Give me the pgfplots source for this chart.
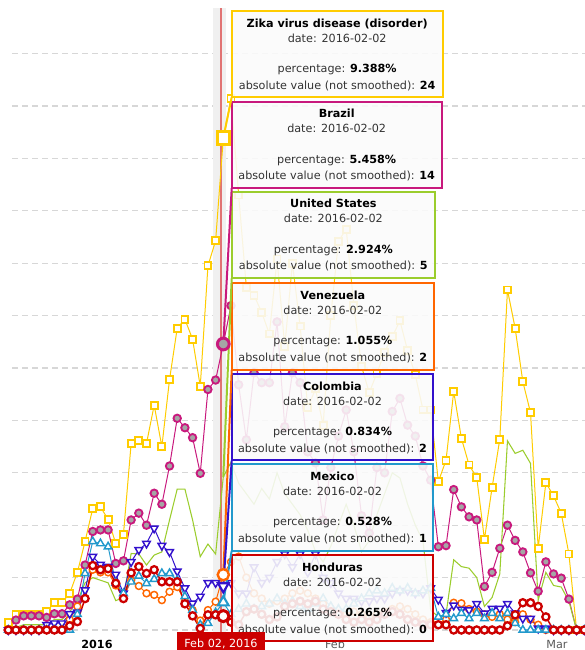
\documentclass[border=0pt]{standalone}
\usepackage{pgfplots}
\pgfplotsset{compat=1.18}
\usepackage{pgfplotstable}
\usepackage{fontspec}
\setmainfont{DejaVu Sans}
\definecolor{czika}{RGB}{255,204,0}
\definecolor{cbra}{RGB}{200,25,125}
\definecolor{cus}{RGB}{155,205,45}
\definecolor{cven}{RGB}{255,102,0}
\definecolor{ccol}{RGB}{51,17,204}
\definecolor{cmex}{RGB}{34,153,204}
\definecolor{chon}{RGB}{204,0,0}
\definecolor{cgrid}{RGB}{215,215,215}
\definecolor{ctxt}{RGB}{51,51,51}
\definecolor{cband}{RGB}{240,240,240}
\definecolor{cvline}{RGB}{225,115,115}
\definecolor{cballs}{RGB}{165,165,165}
\newcommand\tf{\fontsize{8.4pt}{10pt}\selectfont}

\pgfplotstableread{
d zika brazil us ven col mex hon
5 0.15 0 0 0 0 0 0
6 0.30 0.19 0.05 0 0 0 0
7 0.30 0.27 0.10 0 0 0 0
8 0.30 0.27 0.10 0 0 0 0
9 0.30 0.27 0.10 0 0 0 0
10 0.35 0.24 0.10 0 0.10 0 0
11 0.52 0.31 0.20 0 0.13 0 0
12 0.52 0.31 0.20 0 0.13 0 0
13 0.70 0.48 0.35 0.20 0.31 0 0.08
14 1.10 0.59 0.55 0.45 0.34 0.30 0.16
15 1.69 1.24 0.90 0.60 0.76 1.08 0.60
16 2.32 1.88 1.00 1.15 1.40 1.69 1.23
17 2.35 1.91 0.95 1.10 1.25 1.65 1.15
18 2.11 1.91 0.90 1.10 1.21 1.59 1.17
19 1.65 1.27 0.56 0.85 1.06 0.90 0.89
20 1.83 1.32 0.62 0.60 0.70 0.70 0.60
21 3.56 2.10 1.46 0.95 1.30 0.92 1.09
22 3.61 2.23 1.45 0.84 1.53 1.03 1.21
23 3.56 2.00 1.24 0.70 1.65 0.89 1.08
24 4.29 2.61 1.43 0.67 1.94 0.97 1.15
25 3.50 2.40 1.49 0.57 1.61 1.08 0.92
26 4.78 3.13 2.10 0.73 1.49 1.08 0.92
27 5.76 4.04 2.69 0.82 1.12 0.95 0.92
28 5.93 3.86 2.69 0.55 0.80 0.64 0.50
29 5.55 3.67 2.10 0.38 0.51 0.38 0.27
30 4.65 2.99 1.40 0.18 0.64 0.10 0.03
31 6.95 4.59 1.64 0.38 0.90 0.13 0.29
32 7.43 4.77 1.45 0.54 0.90 0.33 0.29
33 9.388 5.458 2.924 1.055 0.834 0.528 0.265
34 10.15 6.19 3.2 1.3 0.9 0.3 0.15
35 8.30 4.68 2.8 1.4 0.7 0.4 0.10
36 6.54 3.63 2.6 1.0 0.7 0.5 0.35
37 6.39 4.91 2.4 0.7 1.2 0.4 0.40
38 6.06 4.72 2.7 0.6 0.9 0.45 0.30
39 5.65 4.72 2.5 0.5 1.0 0.5 0.20
40 7.08 5.88 3.0 0.55 1.3 0.6 0.25
41 5.41 3.88 2.6 0.6 1.45 0.5 0.45
42 7.00 4.91 2.4 0.7 1.2 0.55 0.50
43 5.80 4.72 2.2 0.75 1.45 0.45 0.55
44 4.24 3.40 1.9 0.7 1.1 0.4 0.50
45 4.60 3.19 1.5 0.6 1.45 0.5 0.55
46 3.91 2.10 1.3 0.5 1.0 0.6 0.40
47 6.00 3.10 1.6 0.4 0.9 0.45 0.35
48 7.42 3.70 2.0 0.35 0.7 0.4 0.30
49 7.65 4.20 2.4 0.3 0.6 0.4 0.20
50 6.20 3.40 2.0 0.35 0.6 0.5 0.15
51 5.03 2.18 1.5 0.3 0.55 0.6 0.20
52 4.53 1.85 1.7 0.25 0.55 0.7 0.15
53 4.90 3.10 2.2 0.3 0.6 0.75 0.20
54 5.30 3.00 2.6 0.35 0.6 0.7 0.30
55 5.60 4.17 3.0 0.4 0.7 0.8 0.35
56 5.90 4.42 2.9 0.45 0.75 0.75 0.30
57 5.33 3.91 2.4 0.4 0.75 0.8 0.20
58 4.87 3.70 2.0 0.3 0.7 0.7 0.15
59 4.20 3.13 1.7 0.2 0.7 0.75 0.10
60 4.20 2.86 0.38 0.15 0.8 0.8 0.10
61 2.83 1.59 0.25 0.10 0.58 0.25 0.10
62 3.24 1.61 0.30 0.20 0.33 0.30 0.10
63 4.55 2.68 1.34 0.52 0.47 0.22 0
64 3.66 2.35 1.21 0.51 0.39 0.32 0
65 3.15 2.16 1.18 0.40 0.38 0.22 0
66 2.91 2.10 1.00 0.35 0.50 0.32 0
67 1.73 0.83 0.45 0.30 0.32 0.22 0
68 2.72 1.10 0.62 0.25 0.41 0.32 0
69 3.64 1.56 1.07 0.30 0.41 0.22 0
70 6.49 2.00 3.61 0.20 0.50 0.32 0.08
71 5.76 1.71 3.37 0.15 0.32 0.13 0.29
72 4.74 1.49 3.43 0.30 0.22 0 0.52
73 4.15 1.09 3.18 0.20 0.22 0 0.52
74 1.56 0.74 0.57 0.10 0.03 0 0.45
75 2.81 1.30 1.10 0 0.03 0 0.25
76 2.56 1.07 0.85 0 0 0 0
77 2.23 0.99 0.82 0 0 0 0
78 1.45 0.59 0.55 0 0 0 0
79 0 0 0 0 0 0 0
80 0 0 0 0 0 0 0
}\zikadata

\newcommand\tipbox[6]{%
  \filldraw[draw=#3, line width=1.5pt, fill=black!2, fill opacity=0.89] (231.7,#1) rectangle (#2,{#1+86.5});
  \node[anchor=mid, font=\tf\bfseries, text=black, inner sep=0pt] at ({(231.7+#2)/2},{#1+12.5}) {#4};
  \node[anchor=mid, font=\tf, text=ctxt, inner sep=0pt] at ({(231.7+#2)/2},{#1+27.5}) {date: 2016-02-02};
  \node[anchor=mid, font=\tf, text=ctxt, inner sep=0pt] at ({(231.7+#2)/2},{#1+58}) {percentage: \textcolor{black}{\textbf{#5\%}}};
  \node[anchor=mid, font=\tf, text=ctxt, inner sep=0pt] at ({(231.7+#2)/2},{#1+74.5}) {absolute value (not smoothed): \textcolor{black}{\textbf{#6}}};
}

\pgfplotsset{commonax/.style={
  at={(0,0)}, anchor=south west,
  scale only axis, width=429.70pt, height=470.42pt,
  xmin=5.5, xmax=80.1, ymin=-0.1, ymax=11.87,
  clip=false}}

\begin{document}
\begin{tikzpicture}
\begin{axis}[commonax,
  axis line style={draw=none},
  major tick length=0pt,
  ytick={0,1,...,11},
  yticklabel={\relax},
  ymajorgrids, grid style={cgrid, line width=0.8pt, dash pattern=on 4.5pt off 3pt},
  xtick={16.55,47.54,76.45},
  xticklabels={\textcolor{black}{\textbf{2016}},Feb,Mar},
  xticklabel style={font=\tf, text=black!65, anchor=mid, yshift=-7.3pt},
]
\fill[cband] (axis cs:31.66,-0.1) rectangle (axis cs:33.35,11.87);
\draw[cvline, line width=1.6pt] (axis cs:32.70,-0.1) -- (axis cs:32.70,11.87);
\addplot[czika, line width=0.75pt, mark=square*, mark size=2.6pt, mark options={fill=white, line width=1.4pt}] table[x=d,y=zika]{\zikadata};
\addplot[cbra, line width=0.75pt, mark=*, mark size=2.8pt, mark options={fill=cballs, line width=1.4pt}] table[x=d,y=brazil]{\zikadata};
\addplot[cus, line width=0.8pt, no markers] table[x=d,y=us]{\zikadata};
\addplot[cven, line width=0.75pt, mark=*, mark size=2.6pt, mark options={fill=white, line width=1.1pt}] table[x=d,y=ven]{\zikadata};
\addplot[ccol, line width=0.75pt, mark=triangle*, mark size=3.3pt, mark options={fill=white, line width=1.1pt, rotate=180}] table[x=d,y=col]{\zikadata};
\addplot[cmex, line width=0.75pt, mark=triangle*, mark size=3.3pt, mark options={fill=white, line width=1.1pt}] table[x=d,y=mex]{\zikadata};
\addplot[chon, line width=1.1pt, mark=*, mark size=2.7pt, mark options={fill=white, line width=1.7pt}] table[x=d,y=hon]{\zikadata};
\end{axis}

\begin{scope}[shift={(-9.075pt,476.43pt)}, x=0.75pt, y=-0.75pt]
\tipbox{11}{442.7}{czika}{Zika virus disease (disorder)}{9.388}{24}
\tipbox{101.7}{441.7}{cbra}{Brazil}{5.458}{14}
\tipbox{191.7}{435}{cus}{United States}{2.924}{5}
\tipbox{283.3}{434}{cven}{Venezuela}{1.055}{2}
\tipbox{374}{433.3}{ccol}{Colombia}{0.834}{2}
\tipbox{464.3}{433.3}{cmex}{Mexico}{0.528}{1}
\tipbox{555}{433.3}{chon}{Honduras}{0.265}{0}
\draw[czika, line width=1.5pt] (223.3,138.1) -- (231.7,97.3);
\draw[cbra, line width=1.5pt] (223.3,344.0) -- (231.7,188.3);
\draw[cus, line width=1.5pt] (223.3,476.8) -- (231.7,278.3);
\draw[cven, line width=1.5pt] (223.3,574.7) -- (231.7,370);
\draw[ccol, line width=1.5pt] (223.3,586.3) -- (231.7,460.7);
\draw[cmex, line width=1.5pt] (223.3,602.3) -- (231.7,550.7);
\draw[chon, line width=1.5pt] (223.3,616.1) -- (231.7,616.1);
\fill[chon] (177,632) rectangle (265,650);
\node[anchor=mid, font=\tf, text=white, inner sep=0pt] at (221,644) {Feb 02, 2016};
\end{scope}

\begin{axis}[commonax, hide axis]
\addplot[only marks, mark=square*, mark size=4.6pt, mark options={draw=czika, fill=white, line width=2.2pt}] coordinates {(33,9.388)};
\addplot[only marks, mark=*, mark size=4.4pt, mark options={draw=cbra, fill=cballs, line width=2.2pt}] coordinates {(33,5.458)};
\addplot[only marks, mark=*, mark size=4.2pt, mark options={draw=cven, fill=white, line width=1.8pt}] coordinates {(33,1.055)};
\addplot[only marks, mark=triangle*, mark size=4.6pt, mark options={draw=ccol, fill=white, line width=1.6pt, rotate=180}] coordinates {(33,0.834)};
\addplot[only marks, mark=triangle*, mark size=4.6pt, mark options={draw=cmex, fill=white, line width=1.6pt}] coordinates {(33,0.528)};
\addplot[only marks, mark=*, mark size=4.2pt, mark options={draw=chon, fill=white, line width=2.2pt}] coordinates {(33,0.265)};
\end{axis}
\pgfresetboundingbox
\path[use as bounding box] (-9.075pt,-11.07pt) rectangle (429.675pt,476.43pt);
\end{tikzpicture}
\end{document}
